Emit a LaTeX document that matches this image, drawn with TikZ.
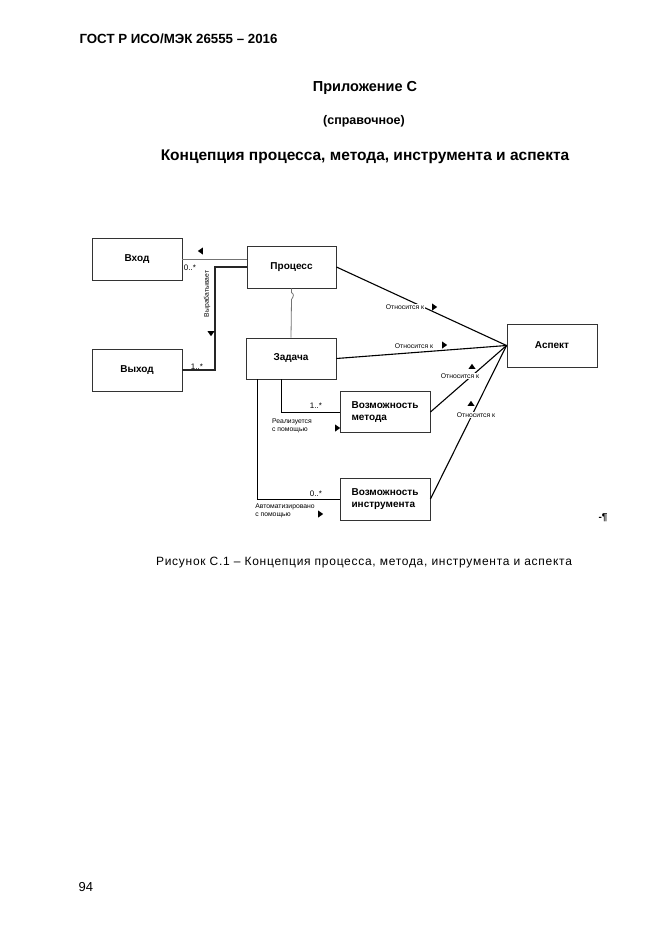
\documentclass[tikz,border=0pt]{standalone}
\usepackage{fontspec}
\setmainfont{Liberation Sans}
\usetikzlibrary{positioning,calc,shapes.geometric}

\begin{document}
\begin{tikzpicture}[
  x=1pt, y=-1pt,
  every node/.style={font=\footnotesize},
  box/.style={draw=black!80, line width=0.9pt, minimum width=90pt,
    minimum height=42pt, inner sep=1pt, font=\fontsize{10}{11.5}\selectfont\bfseries},
  tag/.style={font=\fontsize{6.8}{7.6}\selectfont, inner sep=0.5pt, fill=white},
  mult/.style={font=\fontsize{8}{9}\selectfont, inner sep=0.5pt},
  marker/.style={isosceles triangle, fill, inner sep=0pt, minimum width=4pt,
    minimum height=5pt, isosceles triangle apex angle=70},
  link/.style={line width=1.1pt},
]
\useasboundingbox (0,0) rectangle (661,935);

% Page head
\node[anchor=west, font=\fontsize{13.3}{15}\selectfont\bfseries] (head) at (76,39)
  {ГОСТ Р ИСО/МЭК 26555 – 2016};
\node[font=\fontsize{14.5}{16}\selectfont\bfseries] (app) at (365,88) {Приложение С};
\node[font=\fontsize{12.5}{14}\selectfont\bfseries] (ref) at (364,121) {(справочное)};
\node[font=\fontsize{15.5}{17}\selectfont\bfseries] (title) at (365,157)
  {Концепция процесса, метода, инструмента и аспекта};

% Boxes
\node[box] (vhod) at (137,259) {Вход};
\node[box, minimum width=89pt] (proc) at (291.5,267) {Процесс};
\node[box] (vyhod) at (137,370) {Выход};
\node[box, minimum height=41pt] (zad) at (291,358.5) {Задача};
\node[box, minimum height=41pt, align=left] (met) at (385,412)
  {Возможность\\метода};
\node[box, align=left] (instr) at (385,499) {Возможность\\инструмента};
\node[box, minimum height=43pt] (asp) at (552,345.5) {Аспект};

% Links to aspect (drawn first, labels sit on them)
\draw[link] (proc.east) -- (asp.west);
\draw[link] (zad.east) -- (asp.west);
\draw[link] (met.east) -- (asp.west);
\draw[link] (instr.east) -- (asp.west);

% Process links
\coordinate (bend) at (215,300);
\draw[black!55, line width=0.8pt] (vhod.east) -- (vhod.east -| proc.west);
\draw[line width=1.3pt, black!85] (proc.west) -| (bend) |- (vyhod.east);
\draw[black!55, line width=0.8pt] (proc.south) -- ++(0,4)
  .. controls +(3,2) and +(2,-3) .. ++(0,7) -- (zad.north);
\draw[line width=0.9pt] ($(zad.south west)+(36,0)$) |- (met.west);
\draw[line width=0.9pt] ($(zad.south west)+(12,0)$) |- (instr.west);

% Multiplicities and roles
\node[mult] (m1) at (190,268) {0..*};
\node[marker, shape border rotate=180] (a1) at (201,251) {};
\node[tag, rotate=90] (vyr) at (207,294) {Вырабатывает};
\node[marker, shape border rotate=270] (a2) at (211,333) {};
\node[mult] (m2) at (197,367) {1..*};
\node[mult] (m3) at (316,406) {1..*};
\node[tag, align=left] (real) at (292,426) {Реализуется\\с помощью};
\node[marker] (a3) at (337,428) {};
\node[mult] (m4) at (316,494) {0..*};
\node[tag, align=left] (avt) at (285,511) {Автоматизировано\\с помощью};
\node[marker] (a4) at (320,514) {};

\node[tag] (r1) at (405,307) {Относится к};
\node[marker, shape border rotate=-25] (a5) at (434,307) {};
\node[tag] (r2) at (414,346) {Относится к};
\node[marker] (a6) at (444,345) {};
\node[tag] (r3) at (460,376) {Относится к};
\node[marker, shape border rotate=45] (a7) at (472,367) {};
\node[tag] (r4) at (476,415) {Относится к};
\node[marker, shape border rotate=60] (a8) at (471,404) {};

\node[font=\fontsize{10}{11}\selectfont\bfseries] (pil) at (603,518) {-¶};

% Caption and page number
\node[font=\fontsize{12}{14}\selectfont\addfontfeatures{LetterSpace=6}] (cap) at (364,563)
  {Рисунок С.1 – Концепция процесса, метода, инструмента и аспекта};
\node[anchor=west, font=\fontsize{13}{15}\selectfont] (page) at (75,887) {94};
\end{tikzpicture}
\end{document}
